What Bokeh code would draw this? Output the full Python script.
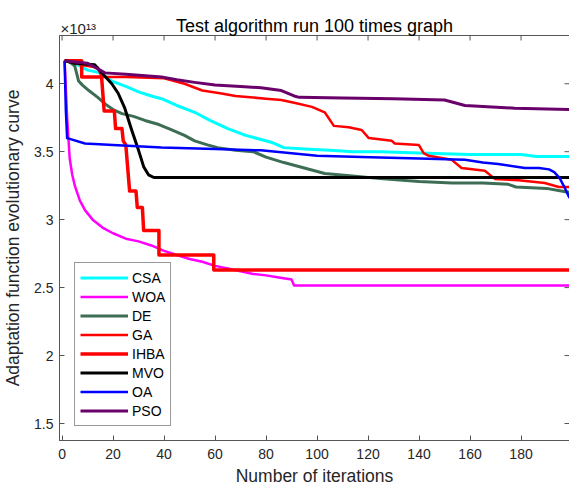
import math
from bokeh.plotting import figure
from bokeh.models import Range1d, FixedTicker, Label, Legend, LegendItem, Title
from bokeh.embed import file_html
from bokeh.resources import INLINE

# ---- data (values in units of 1e13) ----
CSA_x = [1, 5, 10, 15, 19.5, 25, 30, 35, 39, 45, 52, 58, 65, 72, 78, 82, 87, 95, 105, 114, 125, 140, 160, 180, 186, 199]
CSA_y = [4.17, 4.15, 4.10, 4.08, 4.02, 3.98, 3.94, 3.91, 3.89, 3.84, 3.79, 3.73, 3.67, 3.62, 3.59, 3.57, 3.53, 3.52, 3.51, 3.50, 3.50, 3.49, 3.48, 3.48, 3.465, 3.465]

WOA_x = [1, 2, 3, 4, 5, 7, 9, 12, 16, 20, 25, 30, 35, 40, 45, 50, 55, 60, 65, 70, 75, 80, 85, 90, 91, 199]
WOA_y = [4.17, 3.75, 3.45, 3.33, 3.25, 3.14, 3.07, 3.00, 2.94, 2.90, 2.86, 2.84, 2.81, 2.77, 2.74, 2.71, 2.69, 2.66, 2.64, 2.62, 2.60, 2.59, 2.575, 2.56, 2.515, 2.515]

DE_x = [1, 3, 5, 6.5, 8, 10.5, 14, 17, 20, 23.5, 28, 32.5, 38, 43, 48, 52, 57, 61, 68, 75, 80, 87, 95, 103, 115, 126, 140, 153, 165, 175, 178, 190, 199]
DE_y = [4.17, 4.16, 4.13, 4.02, 3.99, 3.95, 3.90, 3.85, 3.81, 3.78, 3.76, 3.73, 3.70, 3.66, 3.62, 3.58, 3.55, 3.53, 3.51, 3.50, 3.46, 3.42, 3.38, 3.34, 3.32, 3.30, 3.28, 3.27, 3.27, 3.26, 3.24, 3.23, 3.20]

GA_x = [1, 5, 10, 14, 15.6, 25, 40, 48, 55, 62, 68, 80, 86, 91, 98, 103, 106.6, 112.4, 117.5, 120.3, 129.3, 130.5, 139.9, 141.8, 143.8, 152.8, 156.7, 165.8, 169.7, 179.1, 189.3, 194.8, 199]
GA_y = [4.17, 4.15, 4.13, 4.12, 4.05, 4.05, 4.04, 4.00, 3.95, 3.93, 3.91, 3.89, 3.88, 3.86, 3.83, 3.79, 3.69, 3.68, 3.66, 3.60, 3.58, 3.56, 3.55, 3.49, 3.47, 3.44, 3.38, 3.36, 3.30, 3.29, 3.27, 3.24, 3.24]

IHBA_x = [1, 7.7, 7.7, 15.5, 16.5, 20.5, 21, 23.5, 24, 25, 26.5, 29, 29.5, 31.5, 32, 38, 38, 59.5, 59.5, 199]
IHBA_y = [4.17, 4.17, 4.05, 4.05, 3.80, 3.80, 3.67, 3.67, 3.58, 3.55, 3.21, 3.21, 3.09, 3.09, 2.92, 2.92, 2.74, 2.74, 2.63, 2.63]

MVO_x = [1, 5, 12.8, 15.6, 19.5, 22, 24.6, 27.3, 30, 32, 33.9, 36, 199]
MVO_y = [4.17, 4.15, 4.14, 4.08, 4.00, 3.93, 3.82, 3.66, 3.51, 3.39, 3.33, 3.31, 3.31]

OA_x = [1, 1.5, 2, 9, 20, 39, 60, 78, 100, 121, 140, 158, 165, 171, 181.5, 187, 191, 193, 195, 197, 199]
OA_y = [4.17, 3.80, 3.60, 3.56, 3.55, 3.53, 3.52, 3.51, 3.47, 3.46, 3.45, 3.44, 3.42, 3.41, 3.38, 3.38, 3.37, 3.35, 3.31, 3.24, 3.16]

PSO_x = [1, 5, 10, 13, 16.8, 25, 39, 45, 52, 60, 70, 78, 86, 91, 93, 110, 130, 150, 158, 177.5, 199]
PSO_y = [4.17, 4.16, 4.15, 4.12, 4.08, 4.07, 4.05, 4.03, 4.01, 3.99, 3.98, 3.97, 3.95, 3.91, 3.90, 3.895, 3.89, 3.88, 3.84, 3.82, 3.81]

names = ["CSA", "WOA", "DE", "GA", "IHBA", "MVO", "OA", "PSO"]
colors = ["#00FFFF", "#FF00FF", "#3D6E55", "#FF0000", "#FF0000", "#000000", "#0000FF", "#6A006A"]
widths = [3, 2.5, 3, 2.5, 3.5, 3, 2.5, 3]
series = [(CSA_x, CSA_y), (WOA_x, WOA_y), (DE_x, DE_y), (GA_x, GA_y),
          (IHBA_x, IHBA_y), (MVO_x, MVO_y), (OA_x, OA_y), (PSO_x, PSO_y)]

x_ticks = [0, 20, 40, 60, 80, 100, 120, 140, 160, 180]
y_ticks = [1.5, 2, 2.5, 3, 3.5, 4]
X0, X1 = -1, 199
Y0, Y1 = 1.375, 4.355

FONT = "Liberation Sans"
AX = "#555555"
TXT = "#262626"

FW, FH = 510, 405
p = figure(frame_width=FW, frame_height=FH, output_backend="svg", toolbar_location=None,
           x_range=Range1d(X0, X1), y_range=Range1d(Y0, Y1),
           min_border_left=57, min_border_right=2, min_border_top=35, min_border_bottom=47,
           title=None)
p.grid.visible = False
p.outline_line_color = AX
p.background_fill_color = "white"
p.border_fill_color = "white"

for ax in (p.xaxis[0], p.yaxis[0]):
    ax.axis_line_color = AX
    ax.major_tick_line_color = AX
    ax.major_tick_in = 5
    ax.major_tick_out = 0
    ax.minor_tick_line_color = None
    ax.major_label_text_font = FONT
    ax.major_label_text_font_size = "14px"
    ax.major_label_text_color = TXT
    ax.axis_label_text_font = FONT
    ax.axis_label_text_font_size = "17.5px"
    ax.axis_label_text_font_style = "normal"
    ax.axis_label_text_color = TXT

p.xaxis[0].ticker = FixedTicker(ticks=x_ticks)
p.yaxis[0].ticker = FixedTicker(ticks=y_ticks)
p.xaxis[0].axis_label = "Number of iterations"
p.yaxis[0].axis_label = "Adaptation function evolutionary curve"
p.xaxis[0].major_label_standoff = 8
p.yaxis[0].major_label_standoff = 6
p.yaxis[0].axis_label_standoff = 8
p.xaxis[0].axis_label_standoff = 4

# title row (nearest the frame), then the exponent row above it
main_title = Title(text="Test algorithm run 100 times graph", align="center", vertical_align="top",
                   standoff=-4, text_font=FONT, text_font_size="18px",
                   text_font_style="normal", text_color="#000000")
p.add_layout(main_title, "above")
p.add_layout(Label(x=1, y=-19, x_units="screen", y_units="screen", text="×10¹³",
                   text_font=FONT, text_font_size="15px", text_color=TXT,
                   text_baseline="bottom", text_align="left"), "above")

# inward ticks on the top and right edges of the box
p.ray(x=x_ticks, y=[Y1] * len(x_ticks), length=5, length_units="screen",
      angle=-math.pi / 2, line_color=AX, line_width=1)
p.ray(x=[X1] * len(y_ticks), y=y_ticks, length=5, length_units="screen",
      angle=math.pi, line_color=AX, line_width=1)

renderers = []
for i in range(len(names)):
    xs, ys = series[i]
    renderers.append(p.line(xs, ys, line_color=colors[i], line_width=widths[i], line_join="round"))
items = [LegendItem(label=n, renderers=[renderers[i]]) for i, n in enumerate(names)]

legend = Legend(items=items, location=(15, 14), border_line_color="#333333",
                label_text_font=FONT, label_text_font_size="14px", label_text_color="#000000",
                glyph_width=48, glyph_height=19, label_height=19, spacing=0,
                padding=5, margin=0, label_standoff=4, background_fill_alpha=1.0)
p.add_layout(legend, "center")

open("out.html", "w").write(file_html(p, INLINE))
